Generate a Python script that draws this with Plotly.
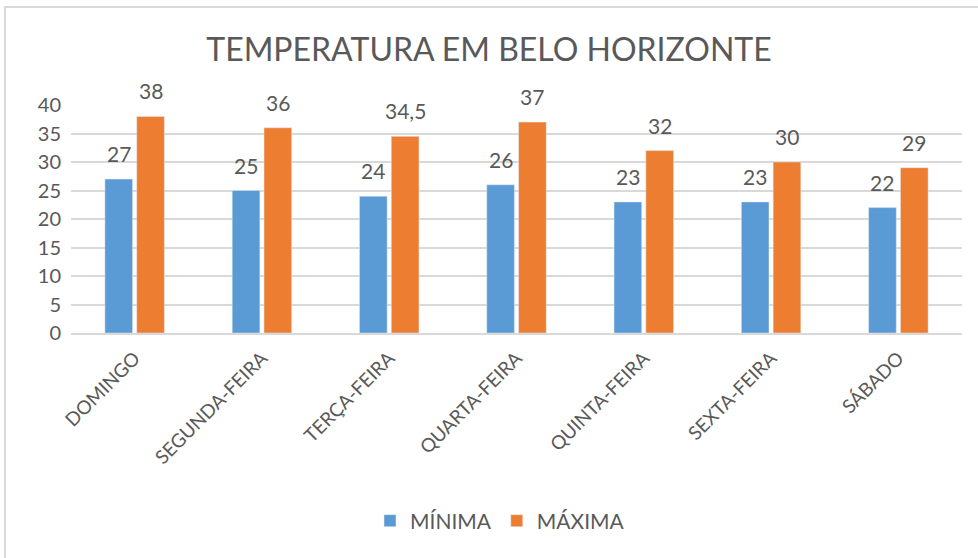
import plotly.graph_objects as go

categories = ["DOMINGO", "SEGUNDA-FEIRA", "TERÇA-FEIRA", "QUARTA-FEIRA",
              "QUINTA-FEIRA", "SEXTA-FEIRA", "SÁBADO"]
minima = [27, 25, 24, 26, 23, 23, 22]
maxima = [38, 36, 34.5, 37, 32, 30, 29]
y_ticks = [0, 5, 10, 15, 20, 25, 30, 35, 40]

W, H = 978, 558
ML, MR, MT, MB = 71, 16, 105, 225
PW = W - ML - MR
PH = H - MT - MB

FONT = "Lato"
TXT = "#595959"
BAR_GAP = 0.5
HALF = PW / len(categories) * (1 - BAR_GAP) / 4  # offset of each bar centre from category centre


def fmt(v):
    s = f"{v:g}"
    return s.replace(".", ",")


fig = go.Figure()
fig.add_trace(go.Bar(name="MÍNIMA", x=categories, y=minima, marker_color="#5B9BD5"))
fig.add_trace(go.Bar(name="MÁXIMA", x=categories, y=maxima, marker_color="#ED7D31"))

annotations = []
for series, shift in ((minima, -HALF), (maxima, HALF)):
    for c, v in zip(categories, series):
        annotations.append(dict(x=c, y=v, xref="x", yref="y", text=fmt(v),
                                showarrow=False, xanchor="center", yanchor="bottom",
                                xshift=shift, yshift=11,
                                font=dict(size=21, color=TXT, family=FONT)))


def px_x(p):
    return (p - ML) / PW


def px_y(p):
    return (H - MB - p) / PH


fig.update_layout(
    width=W, height=H,
    margin=dict(l=ML, r=MR, t=MT, b=MB, pad=0),
    paper_bgcolor="white", plot_bgcolor="white",
    separators=",.",
    barmode="group", bargap=BAR_GAP, bargroupgap=0.13,
    font=dict(family=FONT, color=TXT),
    title=dict(text="TEMPERATURA EM BELO HORIZONTE", x=0.5, xanchor="center",
               y=1 - 50 / H, yanchor="middle",
               font=dict(size=32, color=TXT, family=FONT)),
    xaxis=dict(tickangle=-45, tickfont=dict(size=19, color=TXT, family=FONT),
               showline=True, linecolor="#d9d9d9", linewidth=1.5,
               ticks="outside", ticklen=5, tickcolor="rgba(0,0,0,0)",
               showgrid=False, automargin=False),
    yaxis=dict(range=[0, 40], tickvals=y_ticks, showgrid=True, gridcolor="#d9d9d9",
               gridwidth=1.5, zeroline=False, ticks="outside", ticklen=5,
               tickcolor="rgba(0,0,0,0)", automargin=False,
               tickfont=dict(size=20, color=TXT, family=FONT)),
    legend=dict(orientation="h", x=px_x(370), xanchor="left", y=px_y(521), yanchor="middle",
                font=dict(size=21, color=TXT, family=FONT), itemwidth=30),
    annotations=annotations,
    shapes=[dict(type="rect", xref="paper", yref="paper",
                 x0=px_x(5), x1=px_x(990), y0=px_y(570), y1=px_y(7),
                 line=dict(color="#d9d9d9", width=2), layer="below")],
)

fig.write_html("out.html", config={"displayModeBar": False},
               post_script="document.body.style.margin='0';")
